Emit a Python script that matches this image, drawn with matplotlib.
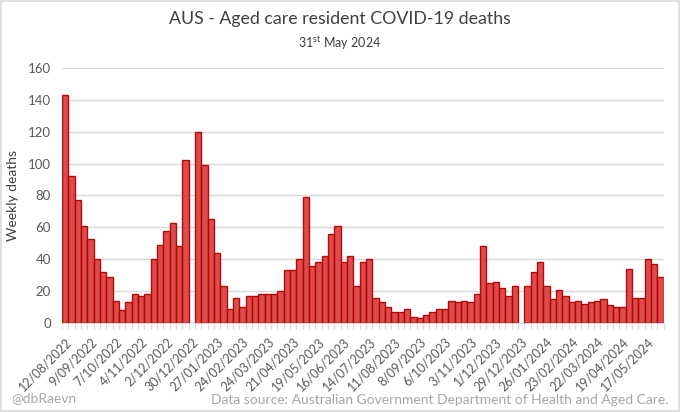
import numpy as np
import pandas as pd
import matplotlib
matplotlib.use("Agg")
import matplotlib.pyplot as plt
from matplotlib.patches import Rectangle

plt.rcParams['font.family'] = ['Lato', 'DejaVu Sans']
plt.rcParams['mathtext.fontset'] = 'custom'
plt.rcParams['mathtext.rm'] = 'Lato'

# weekly deaths, one value per week from 12/08/2022 to 31/05/2024 (nan = no report)
weeks = pd.date_range('2022-08-12', '2024-05-31', freq='7D')
deaths = [143, 92, 77, 61, 53, 40, 32, 29, 14, 8,
          13, 18, 17, 18, 40, 49, 58, 63, 48, 102,
          np.nan, 120, 99, 65, 44, 23, 9, 16, 10, 17,
          17, 18, 18, 18, 20, 33, 33, 40, 79, 36,
          38, 42, 56, 61, 38, 42, 23, 38, 40, 16,
          13, 10, 7, 7, 9, 4, 3, 5, 7, 9,
          9, 14, 13, 14, 13, 18, 48, 25, 26, 22,
          17, 23, np.nan, 23, 32, 38, 23, 15, 21, 17,
          13, 14, 12, 13, 14, 15, 11, 10, 10, 34,
          16, 16, 40, 37, 29]

tick_idx = list(range(0, len(weeks), 4))
tick_labels = [f"{d.day}/{d.month:02d}/{d.year}" for d in weeks[tick_idx]]

fig = plt.figure(figsize=(6.8, 4.12), dpi=100)
ax = fig.add_axes([0.091, 0.216, 0.885, 0.619])

x = np.arange(len(deaths))
ax.bar(x, deaths, width=1.0, color='#d94242', edgecolor='#b80000', linewidth=1.0, alpha=0.95, zorder=3)

ax.set_xlim(-0.5, len(deaths) - 0.5)
ax.set_ylim(0, 160)
ax.set_yticks(range(0, 161, 20))
ax.yaxis.grid(True, color='#d9d9d9', linewidth=1.0, zorder=0)
for s in ['top', 'right', 'left']:
    ax.spines[s].set_visible(False)
ax.spines['bottom'].set_color('#d9d9d9')

ax.set_xticks(tick_idx)
ax.set_xticklabels(tick_labels, rotation=45, ha='right', rotation_mode='anchor',
                   fontsize=9, color='#595959')
ax.set_xticks(np.arange(-0.5, len(deaths), 1), minor=True)
ax.tick_params(axis='x', which='major', length=0, pad=9)
ax.tick_params(axis='x', which='minor', length=4, color='#d9d9d9', width=0.8)
ax.tick_params(axis='y', length=0, labelsize=9.5, labelcolor='#595959', pad=8)

ax.set_ylabel('Weekly deaths', fontsize=10, color='#404040', labelpad=12)
ax.yaxis.set_label_coords(-0.072, 0.5)

fig.text(0.5, 0.955, 'AUS - Aged care resident COVID-19 deaths', ha='center', va='center',
         fontsize=12.8, color='#404040')
fig.text(0.5, 0.895, r'31$^{\mathrm{st}}$ May 2024', ha='center', va='center',
         fontsize=9, color='#404040')
fig.text(0.017, 0.033, '@dbRaevn', ha='left', va='center', fontsize=10, color='#a6a6a6')
fig.text(0.983, 0.028, 'Data source: Australian Government Department of Health and Aged Care.',
         ha='right', va='center', fontsize=10, color='#a6a6a6')

fig.patches.append(Rectangle((0.002, 0.003), 0.996, 0.994, transform=fig.transFigure,
                             fill=False, edgecolor='#d9d9d9', linewidth=1.2))

fig.savefig('out.png', dpi=100, facecolor='white')
